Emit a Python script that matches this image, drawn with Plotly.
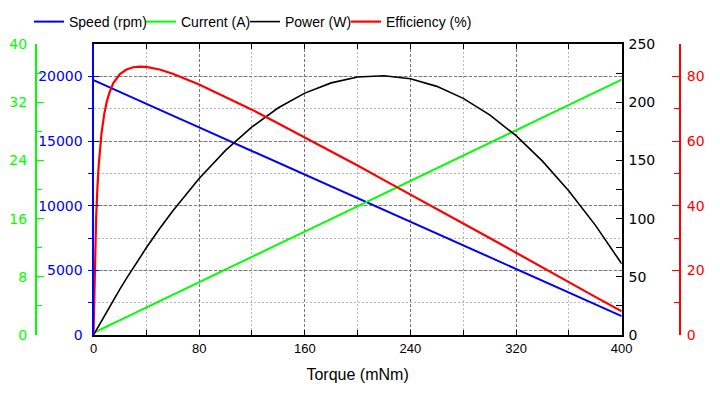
import plotly.graph_objects as go

# Torque (mNm) sample points
torque = [0, 0.5, 1, 2, 3, 4, 6, 8, 10, 12, 15, 20, 25, 30, 35, 40, 50, 60,
          80, 100, 120, 140, 160, 180, 200, 220, 240, 260, 280, 300, 320, 340, 360, 380, 400]

speed_rpm = [19700, 19677, 19654, 19609, 19563, 19518, 19426, 19335, 19244, 19153, 19016, 18788,
             18560, 18332, 18104, 17876, 17420, 16964, 16052, 15140, 14228, 13316, 12404, 11492,
             10580, 9668, 8756, 7844, 6932, 6020, 5108, 4196, 3284, 2372, 1460]

current_a = [0.30, 0.34, 0.39, 0.47, 0.56, 0.65, 0.82, 1.00, 1.17, 1.34, 1.61, 2.04, 2.48, 2.91,
             3.35, 3.78, 4.65, 5.52, 7.26, 9.00, 10.74, 12.48, 14.22, 15.96, 17.70, 19.44, 21.18,
             22.92, 24.66, 26.40, 28.14, 29.88, 31.62, 33.36, 35.10]

power_w = [0, 1.0, 2.1, 4.1, 6.2, 8.2, 12.2, 16.2, 20.2, 24.1, 29.9, 39.4, 48.6, 57.6, 66.4,
           74.9, 91.2, 106.6, 134.5, 158.6, 178.8, 195.2, 207.8, 216.6, 221.6, 222.7, 220.1,
           213.6, 203.3, 189.1, 171.2, 149.4, 123.8, 94.4, 61.2]

efficiency_pct = [0, 12.5, 22.3, 36.3, 45.8, 52.8, 62.1, 68.0, 72.1, 74.9, 77.9, 80.7, 82.1,
                  82.8, 83.0, 82.9, 82.1, 80.8, 77.5, 73.7, 69.7, 65.4, 61.1, 56.8, 52.4, 47.9,
                  43.5, 39.0, 34.5, 30.0, 25.4, 20.9, 16.4, 11.8, 7.3]

series_names = ["Speed (rpm)", "Current (A)", "Power (W)", "Efficiency (%)"]

BLUE = "#0000ff"
GREEN = "#00ff00"
BLACK = "#000000"
RED = "#ff0000"
TICKFONT = "DejaVu Sans"
TXT = "Arial, Liberation Sans, sans-serif"
GRID_MAJOR = dict(gridcolor="#7a7a7a", griddash="3px,2px", gridwidth=1)
GRID_MINOR = dict(gridcolor="#b8b8b8", griddash="2px,2px", gridwidth=1)

# The page body adds an 8px margin, so the figure is laid out 8px up/left.
OFF = 8
W, H = 720 - 2 * OFF, 397 - 2 * OFF
ML, MR = 12, 12
PW = W - ML - MR
x0, x1 = 93.5 - OFF, 621.7 - OFF
dom = [(x0 - ML) / PW, (x1 - ML) / PW]

fig = go.Figure()
fig.add_trace(go.Scatter(x=torque, y=speed_rpm, name=series_names[0], mode="lines",
                         line=dict(color=BLUE, width=2), yaxis="y", legendwidth=67))
fig.add_trace(go.Scatter(x=torque, y=current_a, name=series_names[1], mode="lines",
                         line=dict(color=GREEN, width=2), yaxis="y2", legendwidth=59))
fig.add_trace(go.Scatter(x=torque, y=power_w, name=series_names[2], mode="lines",
                         line=dict(color=BLACK, width=1.6), yaxis="y3", legendwidth=56))
fig.add_trace(go.Scatter(x=torque, y=efficiency_pct, name=series_names[3], mode="lines",
                         line=dict(color=RED, width=2.2), yaxis="y4"))

fig.update_layout(
    width=W, height=H, autosize=False,
    margin=dict(l=ML, r=MR, t=44 - OFF, b=H - (335.5 - OFF), autoexpand=False),
    plot_bgcolor="white", paper_bgcolor="white",
    showlegend=True,
    legend=dict(orientation="h", xref="container", yref="container",
                x=(35 - OFF - 6) / W, xanchor="left", y=1 - (22 - OFF) / H, yanchor="middle",
                font=dict(family=TXT, size=14, color="black"),
                bgcolor="rgba(0,0,0,0)", borderwidth=0, itemwidth=30),
    xaxis=dict(domain=dom, range=[0, 400], tick0=0, dtick=80,
               showline=True, linecolor=BLACK, linewidth=2, mirror="allticks",
               ticks="inside", ticklen=5, tickcolor=BLACK, tickwidth=1,
               tickfont=dict(family=TXT, size=13, color="black"),
               showgrid=True, **GRID_MAJOR,
               zeroline=False, automargin=False,
               minor=dict(dtick=40, tick0=0, ticks="inside", ticklen=4, tickcolor=BLACK,
                          showgrid=True, **GRID_MINOR),
               title=dict(text="Torque (mNm)", font=dict(family=TXT, size=16, color="black"),
                          standoff=14)),
    yaxis=dict(range=[0, 22500], tick0=0, dtick=5000, tickformat="d",
               showline=True, linecolor=BLUE, linewidth=2,
               ticks="inside", ticklen=5, tickcolor=BLUE,
               tickfont=dict(family=TICKFONT, size=14, color=BLUE), ticklabelstandoff=6,
               showgrid=True, **GRID_MAJOR,
               zeroline=False, automargin=False,
               minor=dict(dtick=2500, tick0=0, ticks="outside", ticklen=4, tickcolor=BLUE,
                          showgrid=True, **GRID_MINOR)),
    yaxis2=dict(overlaying="y", anchor="free", position=(36 - OFF - ML) / PW, side="left",
                range=[0, 40], tick0=0, dtick=8,
                showline=True, linecolor=GREEN, linewidth=2,
                ticks="inside", ticklen=7, tickcolor=GREEN,
                tickfont=dict(family=TICKFONT, size=14, color=GREEN), ticklabelstandoff=5,
                showgrid=False, zeroline=False, automargin=False,
                minor=dict(dtick=4, tick0=0, ticks="inside", ticklen=5, tickcolor=GREEN,
                           showgrid=False)),
    yaxis3=dict(overlaying="y", anchor="x", side="right",
                range=[0, 250], tick0=0, dtick=50,
                showline=True, linecolor=BLACK, linewidth=2,
                ticks="inside", ticklen=6, tickcolor=BLACK,
                tickfont=dict(family=TICKFONT, size=14, color=BLACK), ticklabelstandoff=2,
                showgrid=False, zeroline=False, automargin=False,
                minor=dict(dtick=25, tick0=0, ticks="inside", ticklen=6, tickcolor=BLACK,
                           showgrid=False)),
    yaxis4=dict(overlaying="y", anchor="free", position=(680 - OFF - ML) / PW, side="right",
                range=[0, 90], tick0=0, dtick=20,
                showline=True, linecolor=RED, linewidth=2,
                ticks="inside", ticklen=7, tickcolor=RED,
                tickfont=dict(family=TICKFONT, size=14, color=RED), ticklabelstandoff=3,
                showgrid=False, zeroline=False, automargin=False,
                minor=dict(dtick=10, tick0=0, ticks="inside", ticklen=5, tickcolor=RED,
                           showgrid=False)),
)

fig.write_html("out.html")
